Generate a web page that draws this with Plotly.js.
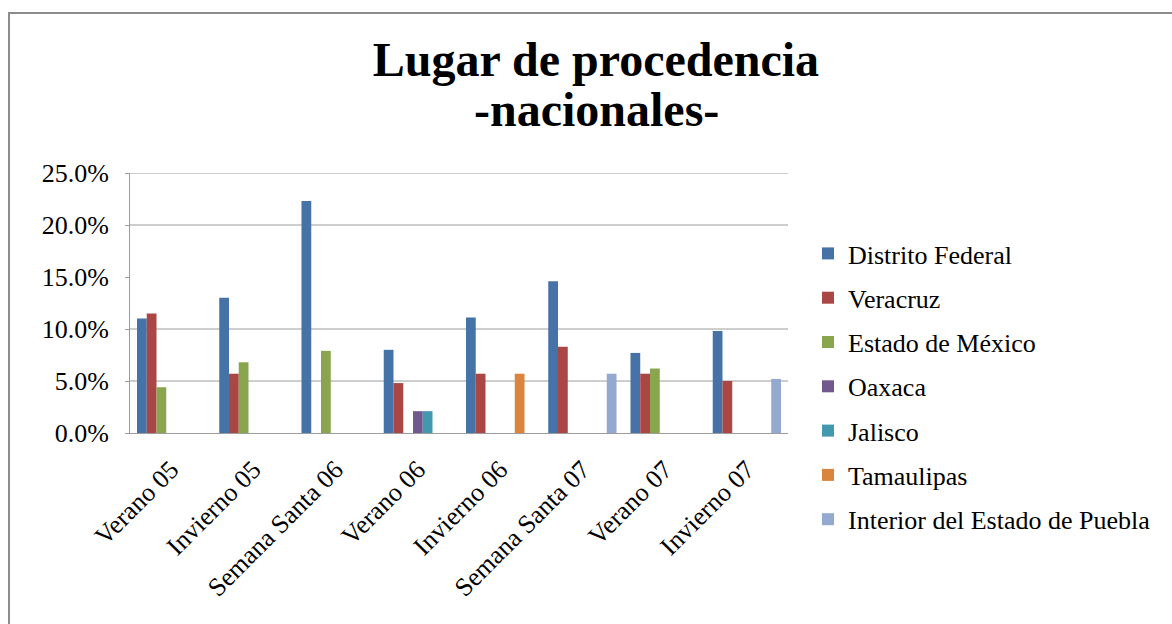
<!DOCTYPE html>
<html>
<head>
<meta charset="utf-8">
<script src="https://cdn.plot.ly/plotly-3.0.1.min.js"></script>
<style>
  html, body { margin: 0; padding: 0; background: #ffffff; }
  #chart { position: absolute; left: 0; top: 0; width: 1172px; height: 624px; }
  #frame { position: absolute; left: 8px; top: 12px; width: 1300px; height: 700px;
           border-left: 2px solid #8c8c8c; border-top: 2px solid #8c8c8c; pointer-events: none; }
</style>
</head>
<body>
<div id="chart"></div>
<div id="frame"></div>
<script>
const categories = ["Verano 05", "Invierno 05", "Semana Santa 06", "Verano 06",
                    "Invierno 06", "Semana Santa 07", "Verano 07", "Invierno 07"];
const seriesNames = ["Distrito Federal", "Veracruz", "Estado de México", "Oaxaca",
                     "Jalisco", "Tamaulipas", "Interior del Estado de Puebla"];
const distritoFederal = [0.110, 0.130, 0.223, 0.080, 0.111, 0.146, 0.077, 0.098];
const veracruz        = [0.115, 0.057, null,  0.048, 0.057, 0.083, 0.057, 0.050];
const estadoMexico    = [0.044, 0.068, 0.079, null,  null,  null,  0.062, null];
const oaxaca          = [null,  null,  null,  0.021, null,  null,  null,  null];
const jalisco         = [null,  null,  null,  0.021, null,  null,  null,  null];
const tamaulipas      = [null,  null,  null,  null,  0.057, null,  null,  null];
const interiorPuebla  = [null,  null,  null,  null,  null,  0.057, null,  0.052];
const yTickValues = [0, 0.05, 0.10, 0.15, 0.20, 0.25];
const gridValues = [0.05, 0.10, 0.20, 0.25];

const seriesValues = [distritoFederal, veracruz, estadoMexico, oaxaca, jalisco, tamaulipas, interiorPuebla];
const colors = ["#4572A7", "#AA4643", "#89A54E", "#71588F", "#4198AF", "#DB843D", "#93A9CF"];
const serif = '"Liberation Serif", "Times New Roman", serif';

const traces = seriesNames.map((name, i) => ({
  type: "bar",
  name: name,
  x: categories,
  y: seriesValues[i],
  legendgroup: "g" + i,
  marker: { color: colors[i], line: { width: 0 } },
  hoverinfo: "x+y+name"
}));

const shapes = gridValues.map(v => ({
  type: "line", xref: "paper", yref: "y", x0: 0, x1: 1, y0: v, y1: v,
  line: { color: "#9c9c9c", width: 1 }, layer: "below"
}));

const layout = {
  width: 1172, height: 624,
  margin: { l: 130, r: 384, t: 173, b: 191 },
  paper_bgcolor: "#ffffff",
  plot_bgcolor: "#ffffff",
  font: { family: serif, size: 26, color: "#000000" },
  title: {
    text: "<b>Lugar de procedencia</b>",
    font: { family: serif, size: 48, color: "#000000" },
    xref: "container", yref: "container",
    x: 0.5085, xanchor: "center",
    y: 0.905, yanchor: "middle"
  },
  annotations: [{
    text: "<b>-nacionales-</b>",
    xref: "paper", yref: "paper",
    x: (596 - 130) / 658, xanchor: "center",
    y: (433 - 109) / 260, yanchor: "middle",
    showarrow: false,
    font: { family: serif, size: 48, color: "#000000" }
  }],
  barmode: "group",
  bargap: 0.17,
  bargroupgap: 0,
  xaxis: {
    type: "category",
    range: [-0.5, categories.length - 0.5],
    autorange: false,
    tickangle: -45,
    showgrid: false,
    showline: true, linecolor: "#9c9c9c", linewidth: 1,
    ticks: "",
    ticklabelstandoff: 10,
    tickfont: { family: serif, size: 26, color: "#000000" }
  },
  yaxis: {
    range: [0, 0.25],
    autorange: false,
    tickvals: yTickValues,
    tickformat: ".1%",
    showgrid: false,
    zeroline: false,
    showline: true, linecolor: "#9c9c9c", linewidth: 1,
    ticks: "outside", ticklen: 4, tickcolor: "#9c9c9c",
    ticklabelstandoff: 11,
    tickfont: { family: serif, size: 26, color: "#000000" }
  },
  shapes: shapes,
  showlegend: true,
  legend: {
    xref: "container", yref: "container",
    x: 808 / 1172, xanchor: "left",
    y: 1 - 230 / 624, yanchor: "top",
    font: { family: serif, size: 26, color: "#000000" },
    tracegroupgap: 7.5,
    bgcolor: "rgba(0,0,0,0)"
  }
};

Plotly.newPlot("chart", traces, layout, { displayModeBar: false, staticPlot: true });
</script>
</body>
</html>
